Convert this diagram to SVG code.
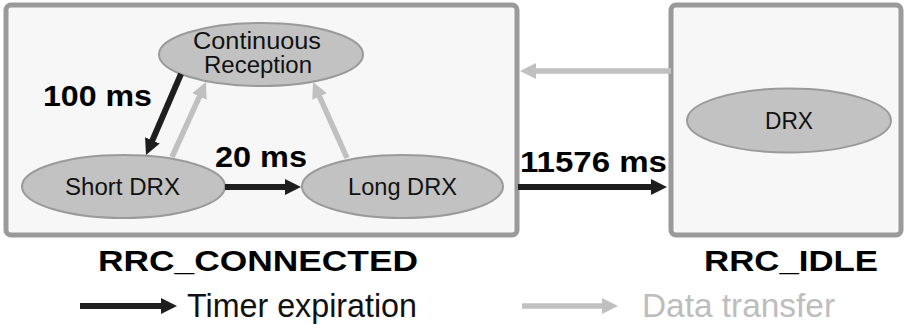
<svg xmlns="http://www.w3.org/2000/svg" width="905" height="333" viewBox="0 0 905 333">
<style>
.box{fill:#f7f7f7;stroke:#9a9a9a;stroke-width:5}
.node{fill:#c2c2c2;stroke:#9a9a9a;stroke-width:2}
.nt{font-family:"Liberation Sans",Arial,sans-serif;font-size:23.5px;fill:#111}
.lbl{font-family:"Liberation Sans",Arial,sans-serif;font-size:30px;font-weight:bold;fill:#000}
.title{font-family:"Liberation Sans",Arial,sans-serif;font-size:29px;font-weight:bold;fill:#000}
.leg{font-family:"Liberation Sans",Arial,sans-serif;font-size:33px}
.blk{stroke:#1e1e1e;stroke-width:6;fill:none}
.gry{stroke:#c0c0c0;stroke-width:5.5;fill:none}
</style>
<defs>
<marker id="hb" markerUnits="userSpaceOnUse" markerWidth="17" markerHeight="17" refX="8" refY="8" orient="auto" viewBox="0 0 17 16">
<path d="M0,0 L16,8 L0,16 z" fill="#1e1e1e"/>
</marker>
<marker id="hg" markerUnits="userSpaceOnUse" markerWidth="17" markerHeight="17" refX="8" refY="8" orient="auto" viewBox="0 0 17 16">
<path d="M0,0 L16,8 L0,16 z" fill="#c0c0c0"/>
</marker>
</defs>
<g id="rrc_connected">
<rect class="box" x="6" y="5" width="511" height="230" rx="5"/>
<text class="title" x="98" y="271" textLength="320" lengthAdjust="spacingAndGlyphs">RRC_CONNECTED</text>
</g>
<g id="rrc_idle">
<rect class="box" x="671" y="5" width="230" height="230" rx="5"/>
<text class="title" x="704" y="271" textLength="174" lengthAdjust="spacingAndGlyphs">RRC_IDLE</text>
</g>
<g id="continuous">
<ellipse class="node" cx="261" cy="54.5" rx="102" ry="31.5"/>
<text class="nt" x="193" y="49" textLength="128" lengthAdjust="spacingAndGlyphs">Continuous</text>
<text class="nt" x="204" y="73" textLength="108" lengthAdjust="spacingAndGlyphs">Reception</text>
</g>
<g id="short_drx">
<ellipse class="node" cx="123.5" cy="186.5" rx="101.5" ry="31.5"/>
<text class="nt" x="65" y="195" textLength="115" lengthAdjust="spacingAndGlyphs">Short DRX</text>
</g>
<g id="long_drx">
<ellipse class="node" cx="402.5" cy="186.5" rx="100.5" ry="31.5"/>
<text class="nt" x="348" y="195" textLength="109" lengthAdjust="spacingAndGlyphs">Long DRX</text>
</g>
<g id="idle_drx">
<ellipse class="node" cx="789" cy="120.5" rx="102" ry="32"/>
<text class="nt" x="765" y="129" textLength="48" lengthAdjust="spacingAndGlyphs">DRX</text>
</g>
<g id="connectors">
<line class="blk" x1="181" y1="74" x2="149.2" y2="147.7" marker-end="url(#hb)"/>
<line class="gry" x1="172" y1="157" x2="202.7" y2="89.3" marker-end="url(#hg)"/>
<line class="gry" x1="347" y1="158" x2="316.3" y2="89.3" marker-end="url(#hg)"/>
<line class="blk" x1="225" y1="187" x2="293" y2="187" marker-end="url(#hb)"/>
<line class="blk" x1="518" y1="187" x2="659" y2="187" marker-end="url(#hb)"/>
<line class="gry" x1="671" y1="71" x2="528" y2="71" marker-end="url(#hg)"/>
<text class="lbl" x="43" y="106" textLength="109" lengthAdjust="spacingAndGlyphs">100 ms</text>
<text class="lbl" x="215" y="167" textLength="92" lengthAdjust="spacingAndGlyphs">20 ms</text>
<text class="lbl" x="520" y="172" textLength="147" lengthAdjust="spacingAndGlyphs">11576 ms</text>
</g>
<g id="legend">
<line class="blk" x1="80" y1="306" x2="169" y2="306" marker-end="url(#hb)"/>
<text class="leg" x="187" y="317" fill="#111" textLength="230" lengthAdjust="spacingAndGlyphs">Timer expiration</text>
<line class="gry" x1="522" y1="306" x2="610" y2="306" marker-end="url(#hg)"/>
<text class="leg" x="642" y="317" fill="#bdbdbd" textLength="193" lengthAdjust="spacingAndGlyphs">Data transfer</text>
</g>
</svg>
